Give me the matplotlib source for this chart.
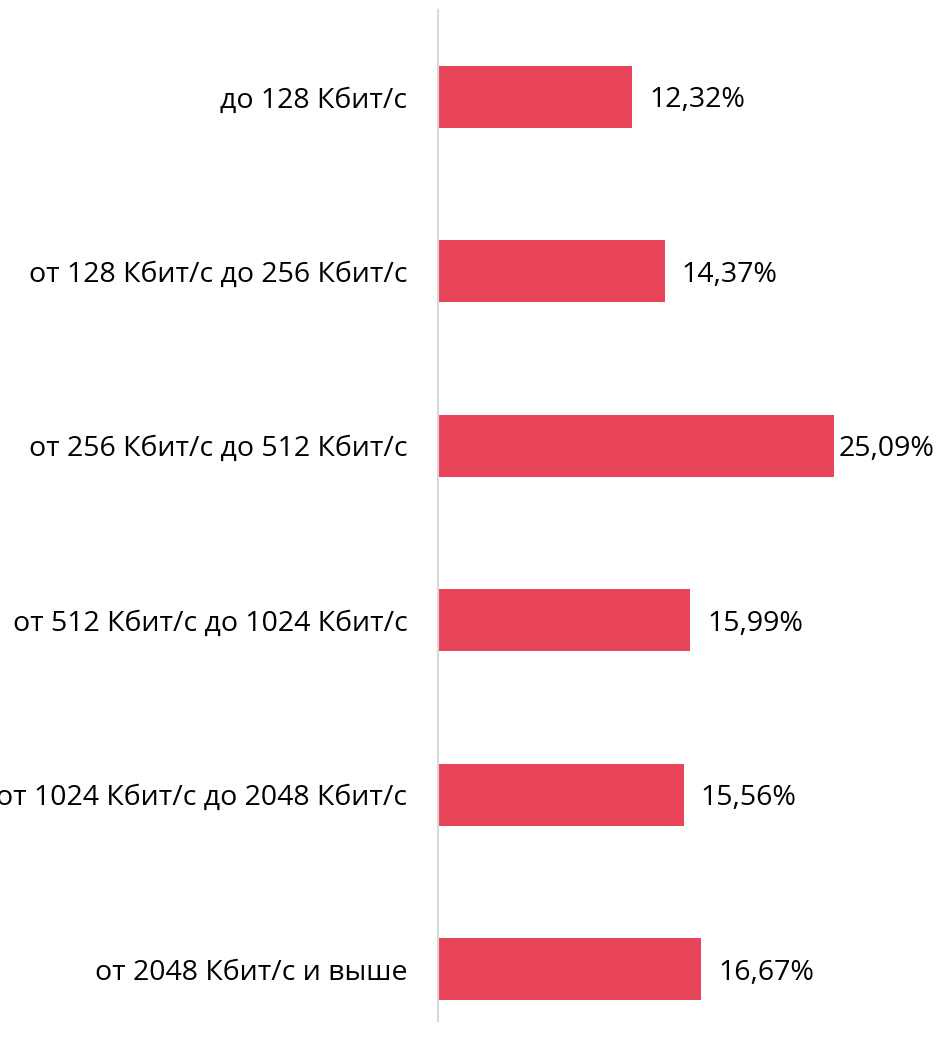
import matplotlib.pyplot as plt

categories = ['до 128 Кбит/с', 'от 128 Кбит/с до 256 Кбит/с', 'от 256 Кбит/с до 512 Кбит/с',
              'от 512 Кбит/с до 1024 Кбит/с', 'от 1024 Кбит/с до 2048 Кбит/с', 'от 2048 Кбит/с и выше']
values = [12.32, 14.37, 25.09, 15.99, 15.56, 16.67]
labels = ['12,32%', '14,37%', '25,09%', '15,99%', '15,56%', '16,67%']

plt.rcParams['font.family'] = ['Open Sans', 'DejaVu Sans']

W, H = 939, 1051
fig = plt.figure(figsize=(W / 100, H / 100), dpi=100)
ax = fig.add_axes([438 / W, 1 - 1021 / H, 1 - 438 / W, 1011 / H])

pos = list(range(len(values)))
ax.barh(pos, values, height=0.355, color='#E8455A')
ax.set_xlim(0, (W - 438) / 15.78)
ax.set_ylim(5.298, -0.4986)

for s in ['top', 'right', 'bottom']:
    ax.spines[s].set_visible(False)
ax.spines['left'].set_color('#D9D9D9')
ax.spines['left'].set_linewidth(1.5)
ax.set_xticks([])
ax.set_yticks(pos)
ax.set_yticklabels(categories, fontsize=20.5, va='center_baseline')
ax.tick_params(axis='y', length=0, pad=22)

xmax = ax.get_xlim()[1]
for p, v, lab in zip(pos, values, labels):
    # keep label inside the figure when bar is long
    room = (xmax - v) * 15.78 - 100
    off = max(2, min(17, room))
    ax.annotate(lab, (v, p), xytext=(off * 0.72, 0), textcoords='offset points',
                ha='left', va='center_baseline', fontsize=20.5)

fig.savefig('out.png', dpi=100)
